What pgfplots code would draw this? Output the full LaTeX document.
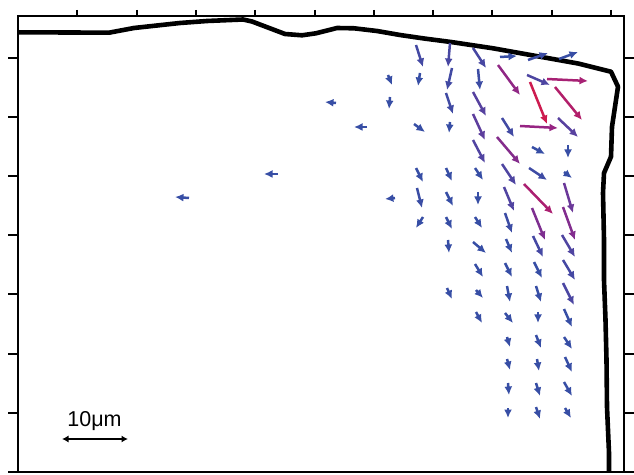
\documentclass[border=0pt]{standalone}
\usepackage{pgfplots}
\pgfplotsset{compat=1.18}
\usepackage{pgfplotstable}
\usepackage{fontspec}
\setmainfont{Liberation Sans}
\usetikzlibrary{arrows.meta}

\pgfplotstableread{
x y u v
416 429 7 -22
450 431 -2 -24
473 426 13 -20
500 417 17 1
528 414 20 7
559 415 19 7
388 399 4 -10
420 401 -2 -13
452 406 -5 -22
478 405 2 -21
498 409 22 -30
527 399 23 -10
547 395 41 -2
336 371 -11 1
390 377 -1 -12
446 381 7 -21
473 382 13 -24
530 392 17 -42
555 387 27 -33
367 347 -13 0
414 350 11 -8
450 352 -1 -11
473 360 12 -26
502 356 12 -19
520 348 38 -2
558 356 20 -19
473 334 12 -23
497 337 23 -27
532 327 13 -7
568 329 0 -13
416 306 7 -14
446 306 6 -13
475 306 8 -12
502 310 14 -21
529 306 18 -12
564 302 8 -6
395 276 -10 -1
417 286 5 -20
446 282 7 -14
478 282 0 -13
504 287 10 -24
524 290 29 -30
564 291 9 -30
423 257 -7 -11
446 257 6 -12
475 257 7 -11
505 261 7 -20
532 266 13 -32
563 267 12 -33
448 234 1 -13
473 232 13 -11
506 235 6 -14
533 238 10 -21
562 239 13 -22
475 210 8 -13
505 211 7 -14
534 212 8 -16
563 214 12 -20
447 186 5 -11
476 184 7 -8
507 188 3 -16
536 188 5 -16
563 191 11 -22
476 162 6 -11
505 161 8 -10
538 162 0 -11
564 165 8 -18
507 137 3 -10
536 139 5 -13
564 137 8 -12
507 115 3 -11
537 115 2 -12
565 117 7 -15
508 91 1 -12
536 91 4 -13
564 92 8 -14
508 66 0 -10
536 67 4 -12
565 66 6 -10
278 300 -14 0
189 276 -14 1
}\arrows

\pgfplotstableread{
x y
18 441.7
70 441.5
109 441.3
134 446
180 451
207 453
243 454.5
252 452.5
285 440
302 438.7
316 440.7
337 446
354 445.7
377 443
400 439
424 435.5
451 432
493 425.7
540 417.3
578 410.5
611 402.3
618 387.3
612 347.3
611 317.3
604 301
603 281
604 234
604 194
605.5 154
606.5 114
607 67
609 21
609 0
}\boundary

\begin{document}
\begin{tikzpicture}
\path[use as bounding box] (0,0) rectangle (634pt,474pt);
\begin{axis}[
  at={(18pt,2pt)}, anchor=south west,
  scale only axis, width=606pt, height=456pt,
  xmin=18, xmax=624, ymin=2, ymax=458,
  axis line style={line width=2pt},
  tick style={line width=2pt, black},
  tick align=outside,
  major tick length=10pt,
  xtick style={/pgfplots/major tick length=6pt},
  xtick pos=right, ytick pos=both,
  xtick={77.3,136.6,196,255.2,314.5,373.8,433,492.3,551.6,610.9},
  ytick={2,61.2,120.4,179.6,238.8,298,357.2,416.4},
  xticklabels={}, yticklabels={},
  point meta min=20, point meta max=46,
  colormap={vec}{rgb255(0)=(55,78,165); rgb255(7)=(85,66,160); rgb255(13)=(115,52,150); rgb255(18)=(150,36,130); rgb255(22)=(172,32,112); rgb255(26)=(212,26,72)},
]
\addplot[line width=4.6pt, black, line join=round, line cap=round] table {\boundary};
\addplot[
  quiver={u=\thisrow{u}, v=\thisrow{v}, colored=mapped color,
    every arrow/.append style={-{Latex[length=8.5pt,width=8pt]}, line width=2.5pt}},
  point meta={sqrt((\thisrow{u})^2+(\thisrow{v})^2)},
] table {\arrows};
\addplot[line width=2pt, black, {Latex[length=6.5pt,width=7pt]}-{Latex[length=6.5pt,width=7pt]}] coordinates {(62,35) (128,35)};
\node[anchor=base, inner sep=0pt, font=\fontsize{21.5}{24}\selectfont] at (axis cs:94.5,47.3) {10μm};
\end{axis}
\end{tikzpicture}
\end{document}
